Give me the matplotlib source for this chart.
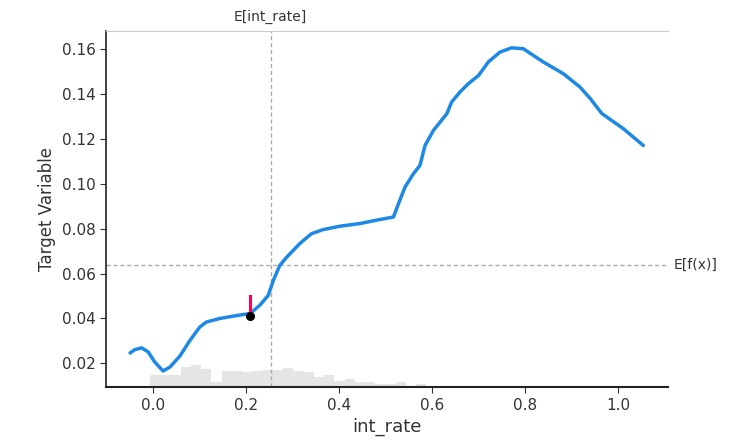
import numpy as np
import matplotlib
matplotlib.use("Agg")
import matplotlib.pyplot as plt

# partial dependence curve
curve_x = [-0.049, -0.039, -0.024, -0.010, 0.004, 0.022, 0.037, 0.058, 0.080, 0.101,
           0.115, 0.144, 0.183, 0.209, 0.230, 0.248, 0.259, 0.273, 0.288, 0.316,
           0.341, 0.366, 0.402, 0.445, 0.488, 0.517, 0.528, 0.542, 0.560, 0.574,
           0.585, 0.603, 0.632, 0.642, 0.660, 0.678, 0.700, 0.721, 0.746, 0.771,
           0.796, 0.839, 0.882, 0.918, 0.940, 0.965, 1.011, 1.054]
curve_y = [0.0246, 0.0261, 0.0269, 0.0251, 0.0206, 0.0166, 0.0184, 0.0232, 0.0303, 0.0362,
           0.0384, 0.0400, 0.0414, 0.0422, 0.0459, 0.0503, 0.0570, 0.0637, 0.0674, 0.0734,
           0.0778, 0.0796, 0.0811, 0.0823, 0.0841, 0.0852, 0.0912, 0.0986, 0.1045, 0.1082,
           0.1171, 0.1238, 0.1313, 0.1364, 0.1409, 0.1446, 0.1483, 0.1543, 0.1587, 0.1606,
           0.1602, 0.1543, 0.1491, 0.1431, 0.1380, 0.1313, 0.1246, 0.1171]

# histogram of the feature (50 bins over the curve range, relative counts)
hist_start = -0.05
hist_width = 0.022
hist_counts = [0, 0, 12, 12, 12, 20, 22, 18, 5, 16,
               16, 15, 16, 17, 17, 19, 16, 15, 10, 12,
               6, 8, 5, 5, 3.5, 3.5, 5, 1, 3.5, 1,
               1, 1, 1, 1, 1, 1, 1, 1, 0.5, 0.5,
               0, 0, 0, 0, 0, 0, 0, 0, 0, 0]

feature_mean = 0.253
expected_value = 0.0637
sample_x = 0.208
sample_pred = 0.0410
sample_top = 0.0499

x_ticks = [0.0, 0.2, 0.4, 0.6, 0.8, 1.0]
y_ticks = [0.02, 0.04, 0.06, 0.08, 0.10, 0.12, 0.14, 0.16]

text_color = "#333333"

fig = plt.figure(figsize=(7.3, 4.46), dpi=100)
ax = fig.add_axes([0.145, 0.132, 0.77, 0.798])

# histogram on a twin axis
ax2 = ax.twinx()
edges = hist_start + hist_width * np.arange(len(hist_counts))
ax2.bar(edges, hist_counts, width=hist_width, align="edge",
        color="black", alpha=0.1, linewidth=0)
ax2.set_ylim(0, 356)
ax2.set_yticks([])
for s in ax2.spines.values():
    s.set_visible(False)

ax.set_zorder(ax2.get_zorder() + 1)
ax.patch.set_visible(False)

ax.plot(curve_x, curve_y, color="#1E88E5", linewidth=2.5, solid_capstyle="round",
        solid_joinstyle="round", zorder=3)

ax.axvline(feature_mean, color="#aaaaaa", linestyle=(0, (3, 2)), linewidth=1, zorder=1)
ax.axhline(expected_value, color="#aaaaaa", linestyle=(0, (3, 2)), linewidth=1, zorder=1)

ax.plot([sample_x, sample_x], [sample_pred + 0.0013, sample_top],
        color="#FF0052", linewidth=2.2, zorder=4)
ax.plot([sample_x], [sample_pred], "o", color="black", markersize=5.5, zorder=5)

ax.set_xlim(-0.101, 1.107)
ax.set_ylim(0.0094, 0.168)
ax.set_xticks(x_ticks)
ax.set_xticklabels(["%.1f" % t for t in x_ticks])
ax.set_yticks(y_ticks)
ax.set_yticklabels(["%.2f" % t for t in y_ticks])
ax.tick_params(colors=text_color, labelsize=11, length=4)

ax.spines["right"].set_visible(False)
ax.spines["top"].set_color("#cccccc")
ax.spines["left"].set_color("#222222")
ax.spines["bottom"].set_color("#222222")
ax.spines["bottom"].set_linewidth(1.5)
ax.spines["left"].set_linewidth(1.2)

ax.set_xlabel("int_rate", fontsize=13, color=text_color)
ax.set_ylabel("Target Variable", fontsize=12, color=text_color)

# labels for the expected values
ax.text(feature_mean, 1.02, "E[int_rate]", transform=ax.get_xaxis_transform(),
        ha="center", va="bottom", fontsize=10, color=text_color)
ax.text(1.01, expected_value, "E[f(x)]", transform=ax.get_yaxis_transform(),
        ha="left", va="center", fontsize=10, color=text_color)

fig.savefig("out.png", dpi=100)
